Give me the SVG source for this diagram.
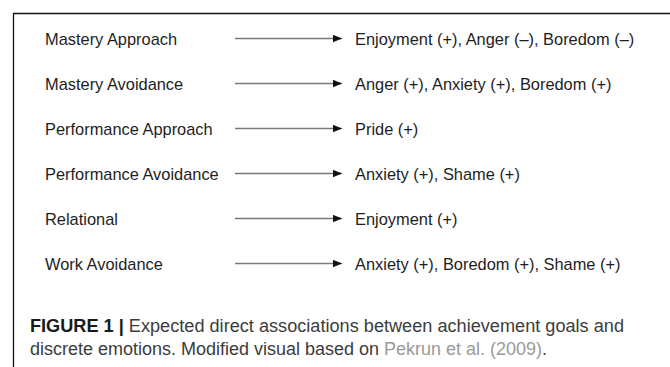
<svg xmlns="http://www.w3.org/2000/svg" width="670" height="367" viewBox="0 0 670 367">
<style>
.lbl{font-family:"Liberation Sans",Arial,sans-serif;font-size:16.4px;fill:#1e1e1e}
.cap{font-family:"Liberation Sans",Arial,sans-serif;font-size:17.5px;fill:#3c3c3c}
.b{font-weight:bold;fill:#1a1a1a}
.ref{fill:#9a9a9a}
.conn line{stroke:#7a7a7a;stroke-width:1.3}
</style>
<defs>
<marker id="ah" markerWidth="10" markerHeight="8" refX="9" refY="4" orient="auto" markerUnits="userSpaceOnUse">
<path d="M0,0.3 L9,4 L0,7.7 Z" fill="#111"/>
</marker>
</defs>
<rect width="670" height="367" fill="#fff"/>
<path d="M13.5,367 V13.5 H670" fill="none" stroke="#111" stroke-width="1.3"/>
<g id="n1"><text class="lbl" x="45" y="44.5">Mastery Approach</text><text class="lbl" x="355" y="44.5">Enjoyment (+), Anger (–), Boredom (–)</text></g>
<g id="n2"><text class="lbl" x="45" y="89.5">Mastery Avoidance</text><text class="lbl" x="355" y="89.5">Anger (+), Anxiety (+), Boredom (+)</text></g>
<g id="n3"><text class="lbl" x="45" y="134.5">Performance Approach</text><text class="lbl" x="355" y="134.5">Pride (+)</text></g>
<g id="n4"><text class="lbl" x="45" y="179.5">Performance Avoidance</text><text class="lbl" x="355" y="179.5">Anxiety (+), Shame (+)</text></g>
<g id="n5"><text class="lbl" x="45" y="224.5">Relational</text><text class="lbl" x="355" y="224.5">Enjoyment (+)</text></g>
<g id="n6"><text class="lbl" x="45" y="269.5">Work Avoidance</text><text class="lbl" x="355" y="269.5">Anxiety (+), Boredom (+), Shame (+)</text></g>
<g class="conn" id="connectors">
<line x1="235" y1="38.5" x2="342" y2="38.5" marker-end="url(#ah)"/>
<line x1="235" y1="83.5" x2="342" y2="83.5" marker-end="url(#ah)"/>
<line x1="235" y1="128.5" x2="342" y2="128.5" marker-end="url(#ah)"/>
<line x1="235" y1="173.5" x2="342" y2="173.5" marker-end="url(#ah)"/>
<line x1="235" y1="218.5" x2="342" y2="218.5" marker-end="url(#ah)"/>
<line x1="235" y1="263.5" x2="342" y2="263.5" marker-end="url(#ah)"/>
</g>
<g id="caption">
<text class="cap" x="30" y="332" textLength="594" lengthAdjust="spacingAndGlyphs"><tspan class="b">FIGURE 1</tspan> <tspan class="b">|</tspan> Expected direct associations between achievement goals and</text>
<text class="cap" x="30" y="355" textLength="517" lengthAdjust="spacingAndGlyphs">discrete emotions. Modified visual based on <tspan class="ref">Pekrun et al. (2009)</tspan>.</text>
</g>
</svg>
